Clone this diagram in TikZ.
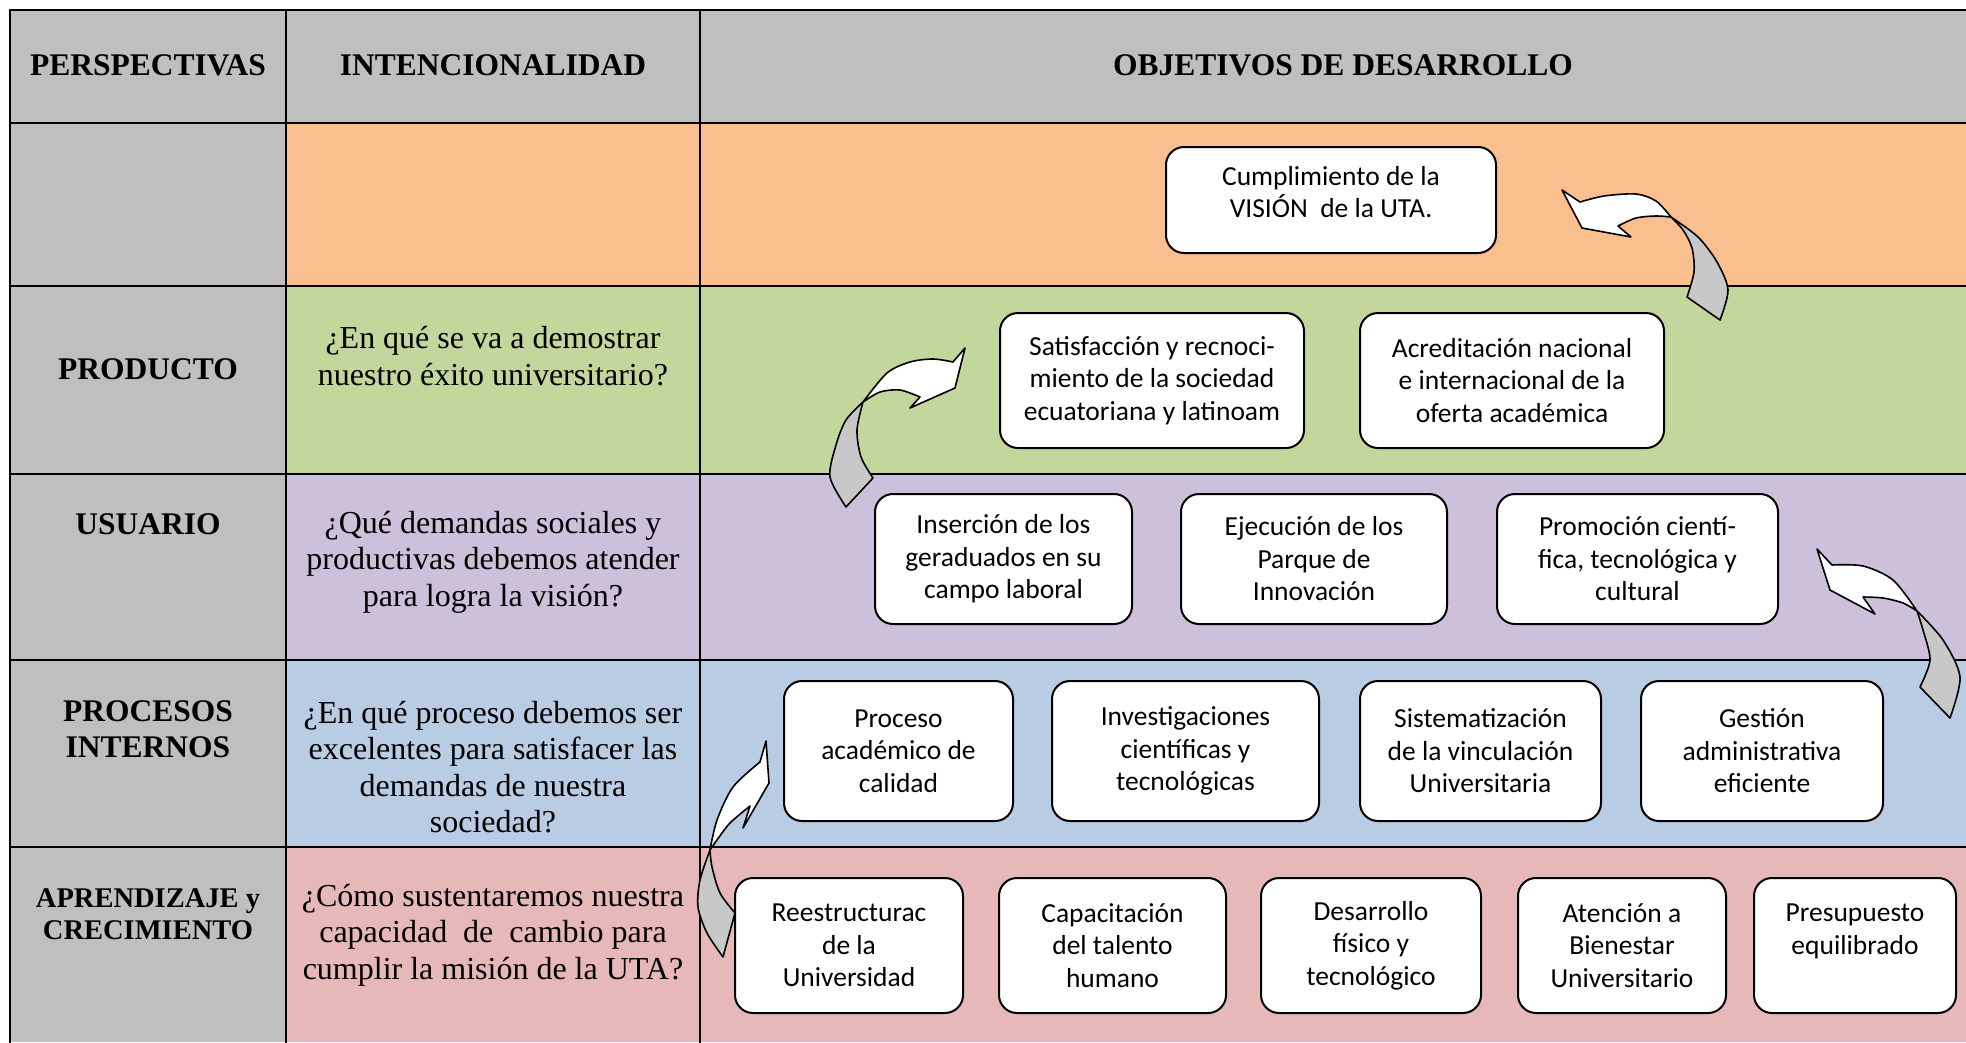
\documentclass[tikz,border=0pt]{standalone}
\usepackage{fontspec}
\setmainfont{Liberation Serif}
\newfontfamily\boxfont{Carlito}
\definecolor{hdgray}{RGB}{191,191,191}
\definecolor{rorange}{RGB}{250,191,143}
\definecolor{rgreen}{RGB}{195,214,155}
\definecolor{rpurple}{RGB}{204,192,218}
\definecolor{rblue}{RGB}{184,204,228}
\definecolor{rpink}{RGB}{230,184,183}
\definecolor{argray}{RGB}{200,200,200}
\newcommand{\objbox}[6]{%
  \node[obox, minimum width={#4-#2}, minimum height={#5-#3}] (#1) at ({(#2+#4)/2},{(#3+#5)/2}) {#6};}
\begin{document}
\begin{tikzpicture}[x=1pt,y=-1pt,
  gridline/.style={line width=2.8, line cap=rect, line join=miter},
  hdr/.style={font=\bfseries\fontsize{31.5}{36.4}\selectfont, align=center, inner sep=0},
  hdrsmall/.style={font=\bfseries\fontsize{28.5}{31.5}\selectfont, align=center, inner sep=0},
  qst/.style={font=\fontsize{32}{36.5}\selectfont, align=center, inner sep=0},
  obox/.style={draw=black, line width=2, fill=white, rounded corners=18, align=center,
    font=\boxfont\fontsize{27.5}{32.5}\selectfont, inner sep=0},
  boxtxt/.style={align=center, font=\boxfont\fontsize{27.5}{32.5}\selectfont, inner sep=0},
  arrw/.style={draw=black, line width=1.6, fill=white, line join=round},
  arrg/.style={draw=black, line width=1.6, fill=argray, line join=round}]
\useasboundingbox (0,0) rectangle (1966,1042);
\fill[white] (0,0) rectangle (1966,1042);
% fills
\fill[hdgray] (10,10) rectangle (1966,123);
\fill[hdgray] (10,123) rectangle (286,1042);
\fill[rorange] (286,123) rectangle (1966,286);
\fill[rgreen] (286,286) rectangle (1966,474);
\fill[rpurple] (286,474) rectangle (1966,660);
\fill[rblue] (286,660) rectangle (1966,847);
\fill[rpink] (286,847) rectangle (1966,1042);
% grid
\draw[gridline] (1966,10) -- (10,10) -- (10,1042);
\draw[gridline] (10,123) -- (1966,123);
\draw[gridline] (10,286) -- (1966,286);
\draw[gridline] (10,474) -- (1966,474);
\draw[gridline] (10,660) -- (1966,660);
\draw[gridline] (10,847) -- (1966,847);
\draw[gridline] (286,10) -- (286,1042);
\draw[gridline] (700,10) -- (700,1042);
% headers
\node[hdr] (hP) at (148,65) {PERSPECTIVAS};
\node[hdr] (hI) at (493,65) {INTENCIONALIDAD};
\node[hdr] (hO) at (1343,65) {OBJETIVOS DE DESARROLLO};
% perspectives
\node[hdr] (pProd) at (148,369) {PRODUCTO};
\node[hdr] (pUsu) at (148,524) {USUARIO};
\node[hdr] (pProc) at (148,729) {PROCESOS\\INTERNOS};
\node[hdrsmall] (pApr) at (148,914) {APRENDIZAJE y\\CRECIMIENTO};
% questions
\node[qst] (q1) at (493,356) {¿En qué se va a demostrar\\nuestro éxito universitario?};
\node[qst] (q2) at (493,562) {¿Qué demandas sociales y\\productivas debemos atender\\para logra la visión?};
\node[qst] (q3) at (493,767) {¿En qué proceso debemos ser\\excelentes para satisfacer las\\demandas de nuestra\\sociedad?};
\node[qst] (q4) at (493,935) {¿Cómo sustentaremos nuestra\\capacidad\ \ de\ \ cambio para\\cumplir la misión de la UTA?};
% objective boxes
\objbox{cump}{1166}{147}{1496}{253}{}
\node[boxtxt] (cumpt) at (1331,192) {Cumplimiento de la\\VISIÓN\ \ de la UTA.};
\objbox{sat}{1000}{313}{1304}{448}{Satisfacción y recnoci-\\miento de la sociedad\\ecuatoriana y latinoam}
\objbox{acr}{1360}{313}{1664}{448}{Acreditación nacional\\e internacional de la\\oferta académica}
\objbox{ins}{875}{494}{1132}{624}{Inserción de los\\geraduados en su\\campo laboral}
\objbox{eje}{1181}{494}{1447}{624}{Ejecución de los\\Parque de\\Innovación}
\objbox{prom}{1497}{494}{1778}{624}{Promoción cientí-\\fica, tecnológica y\\cultural}
\objbox{proc}{784}{681}{1013}{821}{Proceso\\académico de\\calidad}
\objbox{inv}{1052}{681}{1319}{821}{Investigaciones\\científicas y\\tecnológicas}
\objbox{sis}{1360}{681}{1601}{821}{Sistematización\\de la vinculación\\Universitaria}
\objbox{ges}{1641}{681}{1883}{821}{Gestión\\administrativa\\eficiente}
\objbox{ree}{735}{878}{963}{1013}{Reestructurac\\de la\\Universidad}
\objbox{capa}{999}{878}{1226}{1013}{Capacitación\\del talento\\humano}
\objbox{desa}{1261}{878}{1481}{1013}{Desarrollo\\físico y\\tecnológico}
\objbox{aten}{1518}{878}{1726}{1013}{Atención a\\Bienestar\\Universitario}
\objbox{pres}{1754}{878}{1956}{1013}{Presupuesto\\equilibrado\\\mbox{}}
% curved arrow 1 (to Cumplimiento)
\filldraw[arrg] (1671,217) -- plot[smooth] coordinates {(1671,217) (1698,237) (1717,262) (1728,290) (1720,320)}
  -- (1687,297) -- plot[smooth] coordinates {(1687,297) (1694,272) (1692,248) (1683,230) (1671,217)} -- cycle;
\filldraw[arrw] (1580,202) -- (1562,190) -- (1582,228) -- (1631,237) -- (1618,226)
  -- plot[smooth] coordinates {(1618,226) (1636,218) (1656,216) (1671,217)}
  -- plot[smooth] coordinates {(1671,217) (1656,201) (1636,194) (1604,196) (1580,202)} -- cycle;
% curved arrow 2 (to Satisfaccion)
\filldraw[arrg] (863,402) -- plot[smooth] coordinates {(863,402) (846,420) (836,445) (830,477) (846,507)}
  -- (873,478) -- plot[smooth] coordinates {(873,478) (861,457) (857,430) (863,402)} -- cycle;
\filldraw[arrw] (953,362) -- (965,348) -- (955,388) -- (910,408) -- (920,397)
  -- plot[smooth] coordinates {(920,397) (900,390) (880,392) (863,402)}
  -- plot[smooth] coordinates {(863,402) (887,373) (910,362) (933,359) (953,362)} -- cycle;
% curved arrow 3 (to Promocion)
\filldraw[arrg] (1917,611) -- plot[smooth] coordinates {(1917,611) (1943,640) (1960,677) (1950,718)}
  -- (1920,687) -- plot[smooth] coordinates {(1920,687) (1930,660) (1923,630) (1917,611)} -- cycle;
\filldraw[arrw] (1832,565) -- (1817,549) -- (1830,590) -- (1875,614) -- (1863,597)
  -- plot[smooth] coordinates {(1863,597) (1883,598) (1903,603) (1917,611)}
  -- plot[smooth] coordinates {(1917,611) (1893,580) (1863,566) (1832,565)} -- cycle;
% curved arrow 4 (to Proceso)
\filldraw[arrg] (710,850) -- plot[smooth] coordinates {(710,850) (700,880) (698,907) (707,933) (723,957)}
  -- (735,913) -- plot[smooth] coordinates {(735,913) (720,893) (712,867) (710,850)} -- cycle;
\filldraw[arrw] (760,762) -- (766,741) -- (769,783) -- (743,828) -- (750,806)
  -- plot[smooth] coordinates {(750,806) (730,823) (717,840) (710,850)}
  -- plot[smooth] coordinates {(710,850) (717,820) (733,787) (760,762)} -- cycle;
\end{tikzpicture}
\end{document}
